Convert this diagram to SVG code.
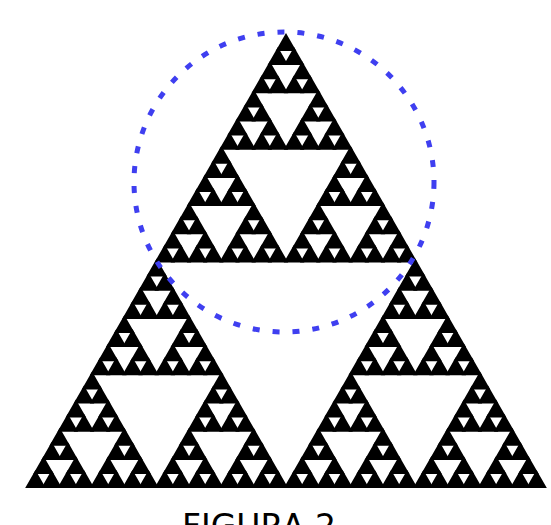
<svg xmlns="http://www.w3.org/2000/svg" xmlns:xlink="http://www.w3.org/1999/xlink" width="551" height="525" viewBox="0 0 551 525">
<style>
.caption{font-family:"DejaVu Sans","Liberation Sans",sans-serif;font-size:33px;fill:#000}
.ring{fill:none;stroke:#3f3ff0;stroke-width:5;stroke-dasharray:7 13}
.tri{fill:#000;stroke:#000;stroke-width:2.6;stroke-linejoin:miter;vector-effect:non-scaling-stroke}
</style>
<defs>
<path id="t0" class="tri" d="M0.5 0 L1 1 L0 1 Z" vector-effect="non-scaling-stroke"/>
<g id="t1"><use xlink:href="#t0" transform="translate(0.25 0) scale(0.5)"/><use xlink:href="#t0" transform="translate(0 0.5) scale(0.5)"/><use xlink:href="#t0" transform="translate(0.5 0.5) scale(0.5)"/></g>
<g id="t2"><use xlink:href="#t1" transform="translate(0.25 0) scale(0.5)"/><use xlink:href="#t1" transform="translate(0 0.5) scale(0.5)"/><use xlink:href="#t1" transform="translate(0.5 0.5) scale(0.5)"/></g>
<g id="t3"><use xlink:href="#t2" transform="translate(0.25 0) scale(0.5)"/><use xlink:href="#t2" transform="translate(0 0.5) scale(0.5)"/><use xlink:href="#t2" transform="translate(0.5 0.5) scale(0.5)"/></g>
<g id="t4"><use xlink:href="#t3" transform="translate(0.25 0) scale(0.5)"/><use xlink:href="#t3" transform="translate(0 0.5) scale(0.5)"/><use xlink:href="#t3" transform="translate(0.5 0.5) scale(0.5)"/></g>
<g id="t5"><use xlink:href="#t4" transform="translate(0.25 0) scale(0.5)"/><use xlink:href="#t4" transform="translate(0 0.5) scale(0.5)"/><use xlink:href="#t4" transform="translate(0.5 0.5) scale(0.5)"/></g>
</defs>
<rect width="551" height="525" fill="#fff"/>
<g id="sierpinski"><use xlink:href="#t5" transform="translate(27.4 35.6) scale(517.2 451.2)"/></g>
<g id="circle"><circle class="ring" cx="284" cy="182" r="150"/></g>
<g id="label"><text class="caption" x="182" y="538">FIGURA 2</text></g>
</svg>
